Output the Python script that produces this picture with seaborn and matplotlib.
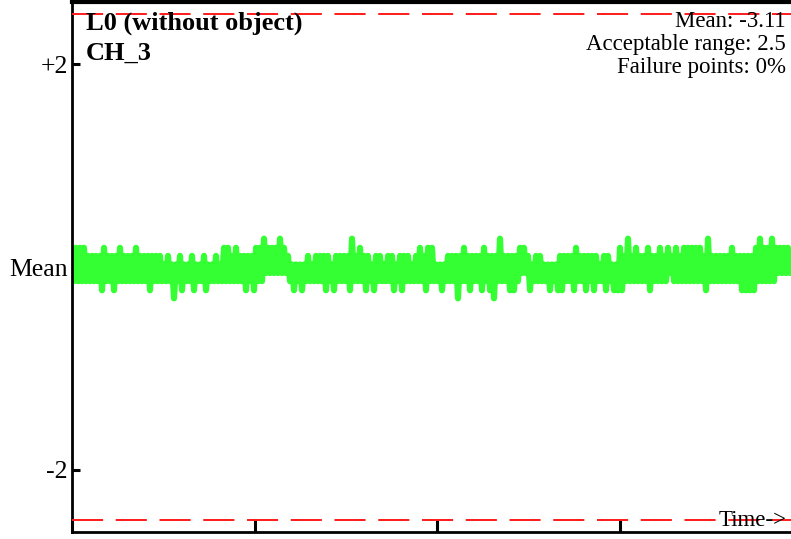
import numpy as np
import pandas as pd
import matplotlib
matplotlib.use("Agg")
import matplotlib.pyplot as plt
import seaborn as sns

# quantised signal levels (offset from mean, display units)
levels = [0.28, 0.19, 0.11, 0.025, -0.06, -0.14, -0.23, -0.31]

# upper / lower swing of the signal, one digit per pair of samples (index into levels)
hi_digits = (
    "1111 2222 1222 1222 1222222 323323323323323 11 21 222"
    "2110111012 3333232222 3222202122 3223223222 32121"
    "1333222212 2221222022 2211232233 3322221222 22322"
    "3312021221 2212121211 1112022222 1222221011 01111"
)
lo_digits = (
    "5555555 6 55 6 55555555 6 55555 7 5 6 55 6 55 6 555555555 6 5"
    "6554444445 6565555565 6555655565 6555565655 55565"
    "5565557556 5565675556 6544655556 5665565565 65565"
    "6665555556 5555455555 5556555555 5566665555 54444"
)

upper = [levels[int(c)] for c in hi_digits if c.isdigit()]
lower = [levels[int(c)] for c in lo_digits if c.isdigit()]
signal = []
for u, l in zip(upper, lower):
    signal += [u, l]

df = pd.DataFrame({"t": np.arange(len(signal)), "value": signal})

limit = 2.5
y_ticks = [2, 0, -2]
y_labels = ["+2", "Mean", "-2"]
stats = ["Mean: -3.11", "Acceptable range: 2.5", "Failure points: 0%"]

sns.set_style("white")
plt.rcParams["font.family"] = ["Liberation Serif", "DejaVu Serif"]
plt.rcParams["text.color"] = "black"

fig = plt.figure(figsize=(7.91, 5.39), dpi=100)
ax = fig.add_axes([72 / 791, 7 / 539, 719 / 791, 530 / 539])

ax.axhline(0, color="black", lw=1.5, zorder=1)
sns.lineplot(data=df, x="t", y="value", color="#33ff33", linewidth=4.4,
             estimator=None, ax=ax, zorder=2,
             solid_joinstyle="round", solid_capstyle="round")
for lim in (limit, -limit):
    ax.axhline(lim, color="#ff1a1a", lw=1.4, dashes=(16, 6.5), zorder=3)

ax.set_xlim(0, 359.5)
ax.set_ylim(-2.617, 2.617)
ax.set_yticks(y_ticks)
ax.set_yticklabels(y_labels)
ax.set_xticks(np.arange(4) * 91.25)
ax.set_xticklabels([])
ax.set_xlabel("")
ax.set_ylabel("")
ax.tick_params(axis="y", left=True, direction="in", length=6, width=2.2,
               labelsize=18.5, pad=3, colors="black")
ax.tick_params(axis="x", bottom=True, direction="in", length=8.6, width=2.2,
               colors="black")

for side in ["left", "bottom"]:
    ax.spines[side].set_color("black")
    ax.spines[side].set_linewidth(2)
ax.spines["top"].set_color("black")
ax.spines["top"].set_linewidth(3)
ax.spines["right"].set_visible(False)

fig.text(86 / 791, 1 - 30 / 539, "L0 (without object)", fontsize=19,
         fontweight="bold", va="baseline", ha="left", color="black")
fig.text(86 / 791, 1 - 60 / 539, "CH_3", fontsize=19,
         fontweight="bold", va="baseline", ha="left", color="black")

for i, s in enumerate(stats):
    fig.text(786 / 791, 1 - (27 + 23 * i) / 539, s, fontsize=16.5,
             va="baseline", ha="right", color="black")

fig.text(787 / 791, 1 - 526 / 539, "Time->", fontsize=16.5,
         va="baseline", ha="right", color="black")

fig.savefig("out.png", dpi=100)
